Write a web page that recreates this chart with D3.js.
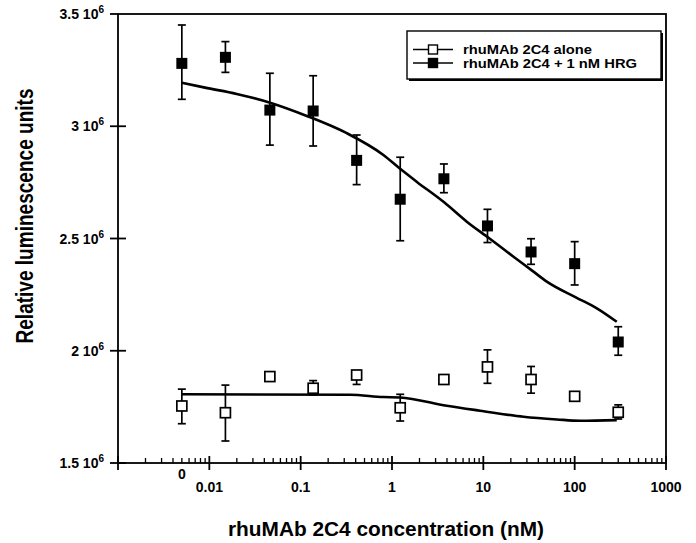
<!DOCTYPE html>
<html>
<head>
<meta charset="utf-8">
<script src="https://cdn.jsdelivr.net/npm/d3@7"></script>
<style>
  body { margin: 0; background: #fff; }
  svg { display: block; font-family: "Liberation Sans", Arial, Helvetica, sans-serif; font-weight: bold; }
</style>
</head>
<body>
<div id="chart"></div>
<script>
// concentrations (nM); the 0 dose is drawn at 0.005 on the log axis
const conc = [0, 0.015, 0.046, 0.137, 0.41, 1.23, 3.7, 11.1, 33.3, 100, 300];
const zeroAt = 0.005;

// rhuMAb 2C4 + 1 nM HRG (x 1e6)
const hrgMean = [3.28, 3.307, 3.072, 3.068, 2.848, 2.675, 2.766, 2.556, 2.44, 2.388, 2.039];
const hrgHi = [3.451, 3.377, 3.236, 3.225, 2.961, 2.862, 2.832, 2.63, 2.499, 2.486, 2.107];
const hrgLo = [3.12, 3.24, 2.916, 2.912, 2.74, 2.49, 2.704, 2.482, 2.385, 2.293, 1.98];

// rhuMAb 2C4 alone (x 1e6)
const aloneMean = [1.754, 1.724, 1.885, 1.833, 1.892, 1.746, 1.872, 1.928, 1.872, 1.797, 1.726];
const aloneHi = [1.829, 1.847, null, 1.867, 1.9, 1.806, null, 2.004, 1.93, null, 1.759];
const aloneLo = [1.675, 1.598, null, 1.803, 1.85, 1.687, null, 1.855, 1.811, null, 1.696];

// fitted curves
const hrgFitX = [0, 0.00897, 0.01995, 0.0462, 0.1167, 0.32, 0.805, 1.248, 1.86, 3.75, 6.59, 11.6, 21.4, 34.2, 49.5, 103, 175, 289];
const hrgFitY = [3.194, 3.172, 3.144, 3.105, 3.046, 2.969, 2.872, 2.808, 2.753, 2.66, 2.575, 2.501, 2.419, 2.357, 2.308, 2.238, 2.189, 2.129];
const aloneFitX = [0, 0.347, 0.805, 1.22, 3.98, 9.2, 27.5, 63.8, 115, 289];
const aloneFitY = [1.806, 1.804, 1.794, 1.792, 1.755, 1.733, 1.706, 1.694, 1.688, 1.691];

// axis ticks
const yTicks = [1.5, 2, 2.5, 3, 3.5];
const xDecades = [0.001, 0.01, 0.1, 1, 10, 100, 1000];
const xLabels = ["", "0.01", "0.1", "1", "10", "100", "1000"];

const legendLabels = ["rhuMAb 2C4 alone", "rhuMAb 2C4 + 1 nM HRG"];

const W = 696, H = 543;
const plotL = 118, plotR = 666, plotT = 14, plotB = 463;

const svg = d3.select("#chart").append("svg")
    .attr("width", W)
    .attr("height", H);

const x = d3.scaleLog().domain([0.001, 1000]).range([plotL, plotR]);
const y = d3.scaleLinear().domain([1.5, 3.5]).range([plotB, plotT]);
const px = c => x(c === 0 ? zeroAt : c);

// frame
svg.append("rect")
    .attr("x", plotL).attr("y", plotT)
    .attr("width", plotR - plotL).attr("height", plotB - plotT)
    .attr("fill", "none").attr("stroke", "#000").attr("stroke-width", 1.8);

// y ticks
yTicks.forEach(v => {
    svg.append("line")
        .attr("x1", plotL - 8).attr("x2", v === 3.5 ? plotL : plotL + 8)
        .attr("y1", y(v)).attr("y2", y(v))
        .attr("stroke", "#000").attr("stroke-width", 1.8);
    const t = svg.append("text")
        .attr("x", 104).attr("y", y(v) + 5)
        .attr("text-anchor", "end")
        .style("font-size", "14px");
    t.append("tspan").text(v + " 10");
    t.append("tspan").attr("dy", -6).style("font-size", "10px").text("6");
});

// x ticks
xDecades.forEach((d, i) => {
    svg.append("line")
        .attr("x1", x(d)).attr("x2", x(d))
        .attr("y1", plotB - 7).attr("y2", plotB + 7)
        .attr("stroke", "#000").attr("stroke-width", 1.8);
    if (xLabels[i]) {
        svg.append("text")
            .attr("x", x(d)).attr("y", 492)
            .attr("text-anchor", "middle")
            .style("font-size", "14px")
            .text(xLabels[i]);
    }
    if (i < xDecades.length - 1) {
        d3.range(2, 10).forEach(m => {
            svg.append("line")
                .attr("x1", x(d * m)).attr("x2", x(d * m))
                .attr("y1", plotB - 5).attr("y2", plotB)
                .attr("stroke", "#000").attr("stroke-width", 1.3);
        });
    }
});
svg.append("text")
    .attr("x", px(0)).attr("y", 479)
    .attr("text-anchor", "middle")
    .style("font-size", "14px")
    .text("0");

// axis titles
svg.append("text")
    .attr("x", 386).attr("y", 536)
    .attr("text-anchor", "middle")
    .attr("textLength", 316).attr("lengthAdjust", "spacingAndGlyphs")
    .style("font-size", "21px")
    .text("rhuMAb 2C4 concentration (nM)");

svg.append("text")
    .attr("transform", "translate(33,216) rotate(-90)")
    .attr("text-anchor", "middle")
    .attr("textLength", 255).attr("lengthAdjust", "spacingAndGlyphs")
    .style("font-size", "23px")
    .text("Relative luminescence units");

// fitted curves
const line = d3.line().curve(d3.curveMonotoneX);
[[hrgFitX, hrgFitY], [aloneFitX, aloneFitY]].forEach(([fx, fy]) => {
    svg.append("path")
        .attr("d", line(fx.map((c, i) => [px(c), y(fy[i])])))
        .attr("fill", "none").attr("stroke", "#000").attr("stroke-width", 2.6);
});

// error bars
function errorBars(lo, hi) {
    conc.forEach((c, i) => {
        if (lo[i] == null) return;
        const g = svg.append("g").attr("stroke", "#000").attr("stroke-width", 1.7);
        g.append("line").attr("x1", px(c)).attr("x2", px(c)).attr("y1", y(lo[i])).attr("y2", y(hi[i]));
        [lo[i], hi[i]].forEach(v => {
            g.append("line").attr("x1", px(c) - 4).attr("x2", px(c) + 4).attr("y1", y(v)).attr("y2", y(v));
        });
    });
}
errorBars(hrgLo, hrgHi);
errorBars(aloneLo, aloneHi);

// markers
svg.selectAll(".filled").data(conc).enter().append("rect")
    .attr("class", "filled")
    .attr("x", (c) => px(c) - 5.5)
    .attr("y", (c, i) => y(hrgMean[i]) - 5.5)
    .attr("width", 11).attr("height", 11)
    .attr("fill", "#000");

svg.selectAll(".open").data(conc).enter().append("rect")
    .attr("class", "open")
    .attr("x", (c) => px(c) - 5)
    .attr("y", (c, i) => y(aloneMean[i]) - 5)
    .attr("width", 10).attr("height", 10)
    .attr("fill", "#fff").attr("stroke", "#000").attr("stroke-width", 1.7);

// legend
const lg = svg.append("g");
lg.append("rect").attr("x", 409).attr("y", 33).attr("width", 254).attr("height", 48).attr("fill", "#000");
lg.append("rect").attr("x", 407).attr("y", 31).attr("width", 254).attr("height", 48)
    .attr("fill", "#fff").attr("stroke", "#000").attr("stroke-width", 1.4);

legendLabels.forEach((lab, i) => {
    const ly = 49.5 + i * 13.5;
    lg.append("line").attr("x1", 413).attr("x2", 453).attr("y1", ly).attr("y2", ly)
        .attr("stroke", "#000").attr("stroke-width", 1.7);
    lg.append("rect").attr("x", 428.5).attr("y", ly - 4.5).attr("width", 9).attr("height", 9)
        .attr("fill", i === 0 ? "#fff" : "#000").attr("stroke", "#000").attr("stroke-width", 1.4);
    lg.append("text")
        .attr("x", 463).attr("y", ly + 4.5)
        .attr("textLength", i === 0 ? 129 : 174).attr("lengthAdjust", "spacingAndGlyphs")
        .style("font-size", "12.5px")
        .text(lab);
});
</script>
</body>
</html>
